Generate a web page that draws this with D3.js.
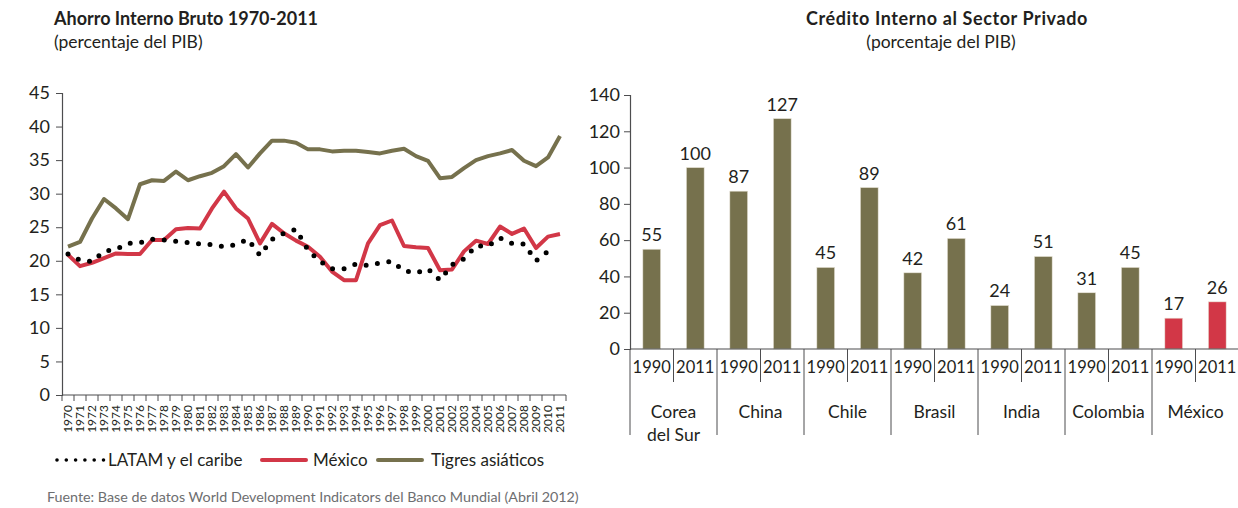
<!DOCTYPE html>
<html>
<head>
<meta charset="utf-8">
<script src="https://cdn.jsdelivr.net/npm/d3@7"></script>
<style>
body { margin: 0; background: #fff; }
text { font-family: Lato, "Open Sans", sans-serif; fill: #231f20; }
</style>
</head>
<body>
<svg width="1238" height="508"></svg>
<script>

// Ahorro interno bruto, % del PIB, 1970-2011
var years = d3.range(1970, 2012);

var latam = [21.0, 20.1, 19.9, 21.4, 21.7, 22.6, 22.7, 23.2, 23.1, 22.9,
    22.7, 22.5, 22.4, 22.1, 22.4, 23.2, 20.8, 23.2, 24.1, 24.7,
    21.6, 19.9, 18.8, 18.8, 19.5, 19.3, 19.7, 19.9, 18.5, 18.2,
    18.8, 17.1, 19.4, 20.3, 22.2, 22.2, 23.4, 22.6, 22.5, 20.0,
    21.4, null];

var mexico = [20.9, 19.2, 19.7, 20.4, 21.1, 21.0, 21.0, 23.1, 23.1, 24.7,
    24.9, 24.8, 27.8, 30.3, 27.8, 26.3, 22.6, 25.5, 24.1, 23.0,
    22.1, 20.6, 18.4, 17.1, 17.1, 22.6, 25.3, 26.0, 22.2, 22.0,
    21.9, 18.6, 18.7, 21.4, 23.0, 22.5, 25.1, 24.0, 24.8, 21.9,
    23.6, 24.0];

var tigres = [22.1, 22.8, 26.3, 29.2, 27.8, 26.2, 31.4, 32.0, 31.9, 33.3,
    32.0, 32.6, 33.1, 34.1, 35.9, 33.9, 36.0, 37.9, 37.9, 37.6,
    36.6, 36.6, 36.3, 36.4, 36.4, 36.2, 36.0, 36.4, 36.7, 35.6,
    34.9, 32.3, 32.5, 33.8, 35.0, 35.6, 36.0, 36.5, 34.9, 34.1,
    35.4, 38.6];

var ahorroTicks = [0, 5, 10, 15, 20, 25, 30, 35, 40, 45];

// Credito interno al sector privado, % del PIB
var paises = ["Corea del Sur", "China", "Chile", "Brasil", "India", "Colombia", "México"];
var periodos = ["1990", "2011"];
var credito1990 = [55, 87, 45, 42, 24, 31, 17];
var credito2011 = [100, 127, 89, 61, 51, 45, 26];
var creditoTicks = [0, 20, 40, 60, 80, 100, 120, 140];

var verde = "#76714d";
var rojo = "#d23747";
var gris = "#4d4d4f";

var svg = d3.select("svg");

// ---------- grafica izquierda ----------

svg.append("text").attr("x", 54).attr("y", 25)
    .style("font-weight", "bold").style("font-size", "18px")
    .text("Ahorro Interno Bruto 1970-2011");
svg.append("text").attr("x", 54).attr("y", 48)
    .style("font-size", "17.5px")
    .text("(percentaje del PIB)");

var x = d3.scaleBand().domain(years).range([62, 566]);
var y = d3.scaleLinear().domain([0, 45]).range([395, 93]);

var gy = svg.append("g").attr("transform", "translate(62,0)")
    .call(d3.axisLeft(y).tickValues(ahorroTicks).tickSize(6).tickPadding(6));
gy.selectAll("text").style("font-size", "18px").attr("fill", "#231f20");

// eje x: marcas en los limites de cada año
var gx = svg.append("g");
gx.append("line").attr("x1", 62).attr("x2", 566).attr("y1", 395).attr("y2", 395)
    .attr("stroke", gris).attr("stroke-width", 1.2);
gx.selectAll(".lim").data(years.concat([2012])).enter().append("line")
    .attr("x1", d => d < 2012 ? x(d) : x(2011) + x.step())
    .attr("x2", d => d < 2012 ? x(d) : x(2011) + x.step())
    .attr("y1", 395).attr("y2", 401)
    .attr("stroke", gris).attr("stroke-width", 1);
gx.selectAll(".yr").data(years).enter().append("text")
    .attr("transform", d => "translate(" + (x(d) + x.bandwidth() / 2) + ",405) rotate(-90)")
    .attr("text-anchor", "end").attr("dy", "0.35em")
    .style("font-size", "12px")
    .text(d => d);
gy.select(".domain").attr("stroke", gris).attr("stroke-width", 1.2);
gy.selectAll(".tick line").attr("stroke", gris);

var cx = (d, i) => x(years[i]) + x.bandwidth() / 2;

var linea = d3.line()
    .defined(d => d != null)
    .x(cx)
    .y(d => y(d));

svg.append("path").datum(tigres).attr("d", linea)
    .attr("fill", "none").attr("stroke", verde).attr("stroke-width", 4)
    .attr("stroke-linejoin", "round");
svg.append("path").datum(mexico).attr("d", linea)
    .attr("fill", "none").attr("stroke", rojo).attr("stroke-width", 4)
    .attr("stroke-linejoin", "round");
svg.append("path").datum(latam).attr("d", linea)
    .attr("fill", "none").attr("stroke", "#000").attr("stroke-width", 5)
    .attr("stroke-linecap", "round").attr("stroke-dasharray", "0 11.5");

// leyenda
var ley = svg.append("g");
ley.append("line").attr("x1", 57).attr("x2", 104).attr("y1", 460).attr("y2", 460)
    .attr("stroke", "#000").attr("stroke-width", 3.6)
    .attr("stroke-linecap", "round").attr("stroke-dasharray", "0 9.3");
ley.append("text").attr("x", 108).attr("y", 466).style("font-size", "17px").text("LATAM y el caribe");
ley.append("line").attr("x1", 262).attr("x2", 306).attr("y1", 460).attr("y2", 460)
    .attr("stroke", rojo).attr("stroke-width", 4).attr("stroke-linecap", "round");
ley.append("text").attr("x", 313).attr("y", 466).style("font-size", "17px").text("México");
ley.append("line").attr("x1", 378).attr("x2", 422).attr("y1", 460).attr("y2", 460)
    .attr("stroke", verde).attr("stroke-width", 4).attr("stroke-linecap", "round");
ley.append("text").attr("x", 431).attr("y", 466).style("font-size", "17px").text("Tigres asiáticos");

svg.append("text").attr("x", 47).attr("y", 502)
    .style("font-size", "14.3px").style("fill", "#6d6e70")
    .text("Fuente: Base de datos World Development Indicators del Banco Mundial (Abril 2012)");

// ---------- grafica derecha ----------

svg.append("text").attr("x", 947).attr("y", 25).attr("text-anchor", "middle")
    .style("font-weight", "bold").style("font-size", "18px").style("letter-spacing", "0.6px")
    .text("Crédito Interno al Sector Privado");
svg.append("text").attr("x", 941).attr("y", 48).attr("text-anchor", "middle")
    .style("font-size", "17.5px")
    .text("(porcentaje del PIB)");

var x0 = d3.scaleBand().domain(paises).range([630, 1239]);
var x1 = d3.scaleBand().domain(periodos).range([0, x0.bandwidth()])
    .paddingInner(0.59).paddingOuter(0.295);
var y2 = d3.scaleLinear().domain([0, 140]).range([349, 95]);

var gy2 = svg.append("g").attr("transform", "translate(630,0)")
    .call(d3.axisLeft(y2).tickValues(creditoTicks).tickSize(6).tickPadding(4));
gy2.selectAll("text").style("font-size", "18px").attr("fill", "#231f20");
gy2.select(".domain").attr("stroke", gris).attr("stroke-width", 1.2);
gy2.selectAll(".tick line").attr("stroke", gris);

var filas = paises.map((p, i) => ({ pais: p, valores: [credito1990[i], credito2011[i]] }));

var grupo = svg.selectAll(".grupo").data(filas).enter().append("g")
    .attr("transform", d => "translate(" + x0(d.pais) + ",0)");

grupo.selectAll("rect").data(d => d.valores.map((v, j) => ({ pais: d.pais, periodo: periodos[j], v: v })))
    .enter().append("rect")
    .attr("x", d => x1(d.periodo))
    .attr("width", x1.bandwidth())
    .attr("y", d => y2(d.v))
    .attr("height", d => y2(0) - y2(d.v))
    .attr("fill", d => d.pais == "México" ? rojo : verde)
    .attr("stroke", "#e9e6da").attr("stroke-width", 0.6);

grupo.selectAll(".val").data(d => d.valores.map((v, j) => ({ periodo: periodos[j], v: v })))
    .enter().append("text")
    .attr("x", d => x1(d.periodo) + x1.bandwidth() / 2)
    .attr("y", d => y2(d.v) - 8)
    .attr("text-anchor", "middle").style("font-size", "18px")
    .text(d => d.v);

// etiquetas de periodo y separadores
grupo.selectAll(".per").data(periodos).enter().append("text")
    .attr("x", d => x1(d) + x1.bandwidth() / 2)
    .attr("y", 373).attr("text-anchor", "middle").style("font-size", "16.5px")
    .text(d => d);
grupo.append("line")
    .attr("x1", x0.bandwidth() / 2).attr("x2", x0.bandwidth() / 2)
    .attr("y1", 349).attr("y2", 382).attr("stroke", gris);
grupo.append("line")
    .attr("x1", 0).attr("x2", 0)
    .attr("y1", 349).attr("y2", 435).attr("stroke", gris);

grupo.append("text")
    .attr("x", x0.bandwidth() / 2).attr("y", 418)
    .attr("text-anchor", "middle").style("font-size", "17.5px")
    .each(function (d) {
        var partes = d.pais == "Corea del Sur" ? ["Corea", "del Sur"] : [d.pais];
        var t = d3.select(this);
        partes.forEach((p, k) => {
            t.append("tspan").attr("x", x0.bandwidth() / 2).attr("dy", k == 0 ? 0 : "1.3em").text(p);
        });
    });

svg.append("line").attr("x1", 630).attr("x2", 1238).attr("y1", 349).attr("y2", 349)
    .attr("stroke", gris).attr("stroke-width", 1.2);

</script>
</body>
</html>
